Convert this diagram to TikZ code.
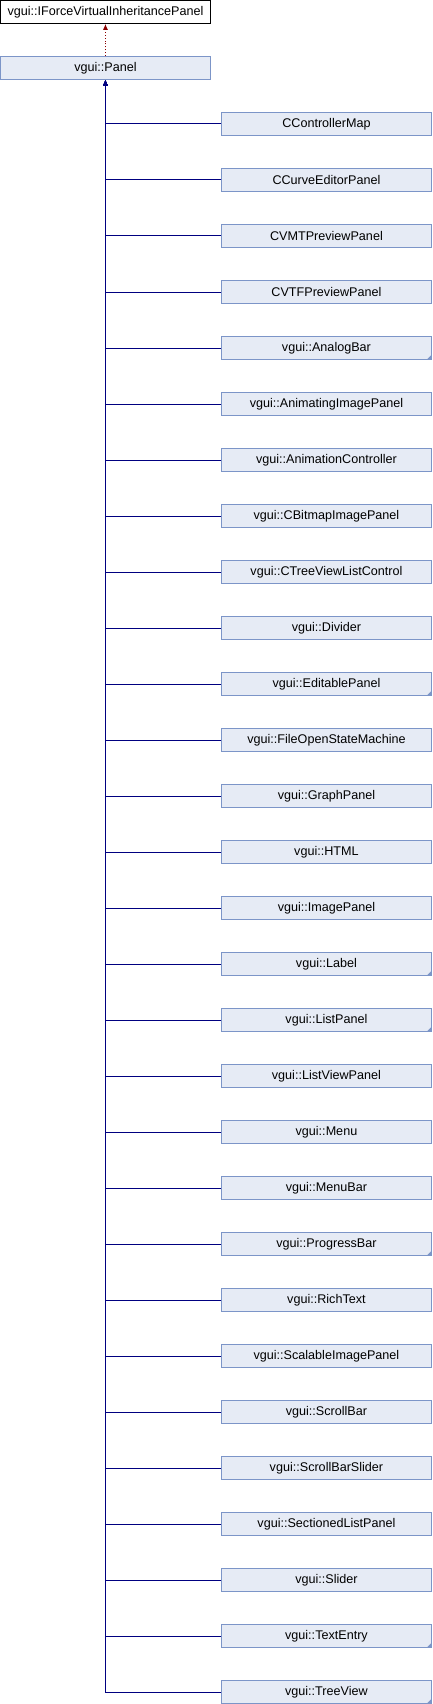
\documentclass[tikz,border=0pt]{standalone}
\usepackage{fontspec}
\setmainfont{Liberation Sans}
\usetikzlibrary{arrows.meta,calc}
\definecolor{boxfill}{HTML}{E6EBF5}
\definecolor{boxdraw}{HTML}{7C95C8}
\definecolor{linkblue}{HTML}{000080}
\definecolor{linkred}{HTML}{8B0000}
\tikzset{
  cls/.style={draw=boxdraw, fill=boxfill, line width=0.9pt, minimum width=210pt, minimum height=23pt, inner sep=0pt, anchor=north west, font=\fontsize{12.6}{14}\selectfont},
  topcls/.style={cls, draw=black, fill=white},
  inh/.style={draw=linkblue, line width=0.9pt, -{Latex[length=6pt,width=5pt]}},
  virt/.style={draw=linkred, line width=0.9pt, dotted, -{Latex[length=6pt,width=5pt]}}
}
\begin{document}
\begin{tikzpicture}[x=1pt,y=-1pt]
\useasboundingbox (0,0) rectangle (432,1704);
\node[topcls] (iforce) at (0,0) {vgui::IForceVirtualInheritancePanel};
\node[cls] (panel) at (0,56) {vgui::Panel};
\draw[virt] (panel.north) -- (iforce.south);
\foreach \name/\txt/\mk [count=\i from 0] in {
  c0/CControllerMap/0,
  c1/CCurveEditorPanel/0,
  c2/CVMTPreviewPanel/0,
  c3/CVTFPreviewPanel/0,
  c4/vgui::AnalogBar/1,
  c5/vgui::AnimatingImagePanel/0,
  c6/vgui::AnimationController/0,
  c7/vgui::CBitmapImagePanel/0,
  c8/vgui::CTreeViewListControl/0,
  c9/vgui::Divider/0,
  c10/vgui::EditablePanel/1,
  c11/vgui::FileOpenStateMachine/0,
  c12/vgui::GraphPanel/0,
  c13/vgui::HTML/0,
  c14/vgui::ImagePanel/0,
  c15/vgui::Label/1,
  c16/vgui::ListPanel/1,
  c17/vgui::ListViewPanel/0,
  c18/vgui::Menu/0,
  c19/vgui::MenuBar/0,
  c20/vgui::ProgressBar/1,
  c21/vgui::RichText/0,
  c22/vgui::ScalableImagePanel/0,
  c23/vgui::ScrollBar/0,
  c24/vgui::ScrollBarSlider/0,
  c25/vgui::SectionedListPanel/0,
  c26/vgui::Slider/0,
  c27/vgui::TextEntry/1,
  c28/vgui::TreeView/1}
{
  \node[cls] (\name) at (221,{112+56*\i}) {\txt};
  \ifnum\mk=1
    \fill[boxdraw] ($(\name.south east)+(-5,-0.45)$) -- ($(\name.south east)+(-0.45,-0.45)$) -- ($(\name.south east)+(-0.45,-5)$) -- cycle;
  \fi
  \draw[inh] (\name.west) -| (panel.south);
}
\end{tikzpicture}
\end{document}
